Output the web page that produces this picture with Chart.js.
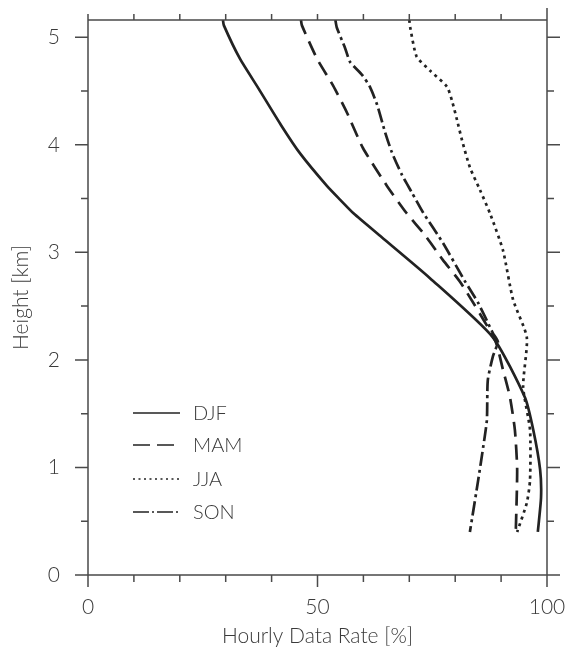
<!DOCTYPE html>
<html>
<head>
<meta charset="utf-8">
<script src="https://cdn.jsdelivr.net/npm/chart.js@4.4.1/dist/chart.umd.min.js"></script>
<style>
  html, body { margin: 0; padding: 0; background: #fff; }
  #wrap { width: 570px; height: 654px; position: relative; }
</style>
</head>
<body>
<div id="wrap"><canvas id="c"></canvas></div>
<script>
// Seasonal profiles: height [km] vs hourly data rate [%]
const SEASONS = ['DJF', 'MAM', 'JJA', 'SON'];

const djfHeight = [5.16, 5.11, 4.80, 4.52, 4.18, 3.92, 3.62, 3.49, 3.36, 3.14, 2.76, 2.21, 1.65, 1.35, 0.98, 0.72, 0.40];
const djfRate   = [29.4, 29.6, 33.1, 37.2, 42.1, 46.2, 52.0, 54.9, 57.9, 64.0, 74.5, 88.2, 95.2, 97.0, 98.5, 98.7, 98.0];

const mamHeight = [5.16, 5.11, 4.80, 4.55, 4.30, 3.97, 3.62, 3.37, 3.16, 2.93, 2.71, 2.18, 1.91, 1.66, 1.35, 0.98, 0.40];
const mamRate   = [46.4, 46.6, 49.9, 53.4, 56.4, 59.9, 65.1, 69.3, 73.4, 77.3, 81.3, 88.7, 90.4, 91.9, 93.0, 93.5, 93.2];

const jjaHeight = [5.16, 5.09, 4.82, 4.69, 4.54, 4.41, 4.23, 4.04, 3.79, 3.58, 3.36, 3.02, 2.56, 2.21, 1.75, 1.35, 0.88, 0.67, 0.40];
const jjaRate   = [70.0, 70.2, 71.6, 74.5, 78.2, 79.3, 80.4, 81.5, 83.2, 85.4, 87.6, 90.4, 92.6, 95.6, 94.8, 96.3, 96.3, 95.6, 93.5];

const sonHeight = [5.16, 5.09, 4.90, 4.77, 4.65, 4.54, 4.37, 4.12, 3.93, 3.72, 3.56, 3.37, 3.09, 2.74, 2.53, 2.25, 2.17, 2.03, 1.81, 1.44, 1.19, 0.88, 0.40];
const sonRate   = [53.9, 54.2, 56.0, 57.1, 59.7, 61.4, 63.0, 64.7, 66.2, 68.4, 70.5, 73.0, 77.3, 82.0, 85.0, 88.2, 89.3, 88.2, 87.1, 86.9, 86.1, 85.0, 83.2];

const xTickLabels = [0, 50, 100];
const yTickLabels = [0, 1, 2, 3, 4, 5];

const FONT = "'Lato', 'DejaVu Sans', sans-serif";
const INK = '#222';
const TEXT = '#3a3a3a';
const AXIS = '#4a4a4a';

const STYLES = {
  DJF: { dash: [], legendDash: [] },
  MAM: { dash: [15, 8], legendDash: [17, 7] },
  JJA: { dash: [3, 4], legendDash: [2, 3.5] },
  SON: { dash: [14, 4, 3, 4], legendDash: [16, 3, 2, 3] },
};

function toPoints(rates, heights) {
  return rates.map((r, i) => ({ x: r, y: heights[i] }));
}

const seriesData = {
  DJF: toPoints(djfRate, djfHeight),
  MAM: toPoints(mamRate, mamHeight),
  JJA: toPoints(jjaRate, jjaHeight),
  SON: toPoints(sonRate, sonHeight),
};

function noScalePadding(scale) {
  scale.paddingLeft = 0;
  scale.paddingRight = 0;
  scale.paddingTop = 0;
  scale.paddingBottom = 0;
}

// frame, tick marks (outward, major/minor) and the inset legend
const framePlugin = {
  id: 'frame',
  afterDraw(chart) {
    const { ctx, chartArea: a } = chart;
    const xs = chart.scales.x, ys = chart.scales.y;
    ctx.save();
    ctx.strokeStyle = AXIS;
    ctx.lineWidth = 1.5;
    ctx.beginPath();
    ctx.moveTo(a.left, a.top); ctx.lineTo(a.right, a.top);
    ctx.moveTo(a.right, a.top); ctx.lineTo(a.right, a.bottom);
    ctx.moveTo(a.left, a.top); ctx.lineTo(a.left, a.bottom);
    ctx.moveTo(a.left, a.bottom); ctx.lineTo(a.right, a.bottom);
    for (let v = 0; v <= 100; v += 10) {
      const px = xs.getPixelForValue(v);
      const major = v % 50 === 0;
      ctx.moveTo(px, a.bottom); ctx.lineTo(px, a.bottom + (major ? 12 : 7));
      ctx.moveTo(px, a.top); ctx.lineTo(px, a.top - (v === 100 ? 12 : 6));
    }
    for (let v = 0; v <= 5; v += 0.5) {
      const py = ys.getPixelForValue(v);
      const major = Number.isInteger(v);
      ctx.moveTo(a.left, py); ctx.lineTo(a.left - (major ? 13 : 7), py);
      ctx.moveTo(a.right, py); ctx.lineTo(a.right + (major ? 13 : 7), py);
    }
    ctx.stroke();

    // legend
    const rows = [413, 445, 479, 512];
    chart.data.datasets.forEach((ds, i) => {
      const st = STYLES[ds.label];
      ctx.strokeStyle = INK;
      ctx.lineWidth = 1.6;
      ctx.setLineDash(st.legendDash);
      ctx.beginPath();
      ctx.moveTo(133, rows[i]);
      ctx.lineTo(180, rows[i]);
      ctx.stroke();
      ctx.setLineDash([]);
      ctx.fillStyle = TEXT;
      ctx.font = `300 20px ${FONT}`;
      ctx.textBaseline = 'middle';
      ctx.fillText(ds.label, 193, rows[i] + 1);
    });
    ctx.restore();
  },
};

const canvas = document.getElementById('c');
new Chart(canvas.getContext('2d'), {
  type: 'scatter',
  data: {
    datasets: SEASONS.map((s) => ({
      label: s,
      data: seriesData[s],
      showLine: true,
      borderColor: INK,
      backgroundColor: INK,
      borderWidth: 2.7,
      borderDash: STYLES[s].dash,
      pointRadius: 0,
      pointHoverRadius: 0,
      tension: 0.2,
      fill: false,
    })),
  },
  options: {
    responsive: true,
    maintainAspectRatio: false,
    animation: false,
    events: [],
    layout: { padding: { top: 20, right: 23, left: 0, bottom: 0 } },
    scales: {
      x: {
        type: 'linear',
        min: 0,
        max: 100,
        afterBuildTicks: (scale) => { scale.ticks = xTickLabels.map((v) => ({ value: v })); },
        afterFit: (scale) => { scale.height = 79; noScalePadding(scale); },
        grid: { display: false, drawTicks: false },
        border: { display: false },
        ticks: {
          padding: 20,
          maxRotation: 0,
          color: TEXT,
          font: { family: FONT, size: 21, weight: 300 },
        },
        title: {
          display: true,
          text: 'Hourly Data Rate [%]',
          color: TEXT,
          font: { family: FONT, size: 21, weight: 300 },
          padding: { top: 0, bottom: 5 },
        },
      },
      y: {
        type: 'linear',
        min: 0,
        max: 5.16,
        afterBuildTicks: (scale) => { scale.ticks = yTickLabels.map((v) => ({ value: v })); },
        afterFit: (scale) => { scale.width = 88; noScalePadding(scale); },
        grid: { display: false, drawTicks: false },
        border: { display: false },
        ticks: {
          padding: 28,
          color: TEXT,
          font: { family: FONT, size: 21, weight: 300 },
        },
        title: {
          display: true,
          text: 'Height [km]',
          color: TEXT,
          font: { family: FONT, size: 21, weight: 300 },
          padding: { top: 9, bottom: 0 },
        },
      },
    },
    plugins: {
      legend: { display: false },
      tooltip: { enabled: false },
    },
  },
  plugins: [framePlugin],
});
</script>
</body>
</html>
